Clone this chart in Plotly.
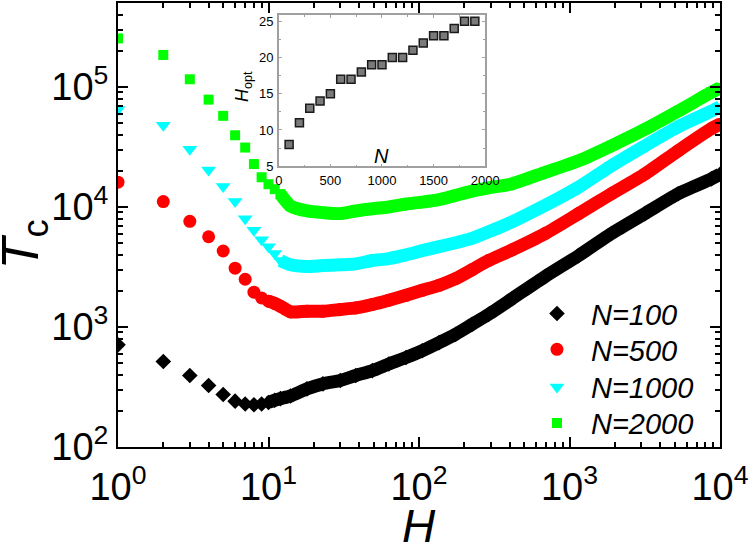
import plotly.graph_objects as go

# ---------------- data ----------------
H = [1, 2, 3, 4, 5, 6, 7, 8, 9, 10, 11, 12,
     14, 18, 23, 30, 38, 49, 63, 82, 105, 136, 175, 225, 290,
     415, 690, 1150, 1900, 3170, 5270, 8760, 10000]

Tc_N100 = [710, 516, 394, 325, 274, 241, 228, 225, 228, 235, 245, 253,
           266, 305, 336, 358, 394, 433, 492, 557, 634, 741, 871, 1052, 1274,
           1720, 2637, 3934, 6012, 8810, 12900, 17140, 18750]
Tc_N500 = [16100, 11100, 7600, 5650, 4300, 3090, 2500, 1950, 1745, 1640, 1571, 1492,
           1337, 1355, 1355, 1400, 1443, 1540, 1672, 1838, 2022, 2225, 2525, 2999, 3581,
           4385, 6012, 8810, 12890, 18840, 29420, 44980, 49000]
Tc_N1000 = [65000, 48000, 30300, 20300, 14800, 11100, 8000, 6400, 5330, 4670, 4090, 3580,
            3300, 3190, 3250, 3300, 3357, 3580, 3716, 3990, 4325, 4670, 5036, 5470, 6210,
            7510, 10320, 14630, 22110, 32370, 46660, 62920, 68400]
Tc_N2000 = [254000, 185000, 116000, 78500, 57500, 39600, 31300, 22800, 17700, 15490, 14090, 12800,
            10190, 9270, 8980, 8810, 9270, 9680, 10000, 10590, 10990, 11530, 12500, 13550, 14450,
            15600, 19460, 24310, 32370, 44370, 62920, 90360, 98200]

series_names = ["N=100", "N=500", "N=1000", "N=2000"]
series_values = [Tc_N100, Tc_N500, Tc_N1000, Tc_N2000]
series_colors = ["#000000", "#ff0000", "#00ffff", "#00ff00"]
series_symbols = ["diamond", "circle", "triangle-down", "square"]
series_sizes = [12, 13, 13, 10]
band_start_H = [10, 10, 12, 12]   # where the markers merge into a dense band

# inset
N_inset = [100, 200, 300, 400, 500, 600, 700, 800, 900, 1000,
           1100, 1200, 1300, 1400, 1500, 1600, 1700, 1800, 1900]
Hopt = [8, 11, 13, 14, 15, 17, 17, 18, 19, 19,
        20, 20, 21, 22, 23, 23, 24, 25, 25]

x_tickvals = [1, 10, 100, 1000, 10000]
x_ticktext = ["10<sup>0</sup>", "10<sup>1</sup>", "10<sup>2</sup>", "10<sup>3</sup>", "10<sup>4</sup>"]
y_tickvals = [100, 1000, 10000, 100000]
y_ticktext = ["10<sup>2</sup>", "10<sup>3</sup>", "10<sup>4</sup>", "10<sup>5</sup>"]

FONT = "Arial, Liberation Sans, sans-serif"

PL, PR, PT, PB = 118, 723, 1, 447
PW, PH = PR - PL, PB - PT


def px(x):
    return (x - PL) / PW


def py(y):
    return (PB - y) / PH


legend_ids = ["legend", "legend2", "legend3", "legend4"]
legend_rows = [313, 349, 387, 423]   # pixel rows of the legend entries

fig = go.Figure()

# dense bands (thick lines through the read values)
for name, vals, col, hs in zip(series_names, series_values, series_colors, band_start_H):
    hx = [h for h in H if h >= hs]
    hy = [v for h, v in zip(H, vals) if h >= hs]
    fig.add_trace(go.Scatter(x=hx, y=hy, mode="lines", line=dict(color=col, width=13, shape="spline", smoothing=0.6),
                             showlegend=False, hoverinfo="skip"))

for name, vals, col, sym, sz, lg in zip(series_names, series_values, series_colors, series_symbols,
                                        series_sizes, legend_ids):
    fig.add_trace(go.Scatter(x=H, y=vals, mode="markers", name=name, legend=lg,
                             marker=dict(symbol=sym, color=col, size=sz, line=dict(width=0))))

# inset
fig.add_trace(go.Scatter(x=N_inset, y=Hopt, mode="markers", xaxis="x2", yaxis="y2", showlegend=False,
                         marker=dict(symbol="square", size=8, color="#7a7a7a", line=dict(color="#1a1a1a", width=1.5))))

minor_log = []
for d in [1, 10, 100, 1000]:
    minor_log += [d * k for k in range(2, 10)]
minor_log_y = []
for d in [100, 1000, 10000, 100000]:
    minor_log_y += [d * k for k in range(2, 10)]

legend_layouts = {}
for lg, row in zip(legend_ids, legend_rows):
    legend_layouts[lg] = dict(x=px(525), y=py(row), xanchor="left", yanchor="middle",
                              bgcolor="rgba(0,0,0,0)", font=dict(size=29, style="italic"), itemwidth=58)

fig.update_layout(
    width=750, height=555,
    margin=dict(l=PL, r=750 - PR, t=PT, b=555 - PB),
    paper_bgcolor="white", plot_bgcolor="white",
    font=dict(family=FONT, color="black"),
    xaxis=dict(type="log", range=[0, 4], showgrid=False, zeroline=False,
               showline=True, linecolor="black", linewidth=2, mirror="allticks",
               ticks="inside", ticklen=10, tickwidth=1.5, tickcolor="black",
               tickvals=x_tickvals, ticktext=x_ticktext, tickfont=dict(size=38),
               ticklabeloverflow="allow", ticklabelstandoff=5,
               minor=dict(tickvals=minor_log, ticks="inside", ticklen=5, tickwidth=1.5, tickcolor="black")),
    yaxis=dict(type="log", range=[2, 5.7], showgrid=False, zeroline=False,
               showline=True, linecolor="black", linewidth=2, mirror="allticks",
               ticks="inside", ticklen=10, tickwidth=1.5, tickcolor="black",
               tickvals=y_tickvals, ticktext=y_ticktext, tickfont=dict(size=38),
               ticklabeloverflow="allow",
               minor=dict(tickvals=minor_log_y, ticks="inside", ticklen=5, tickwidth=1.5, tickcolor="black")),
    xaxis2=dict(domain=[px(279.6), px(487)], anchor="y2", range=[0, 2000], showgrid=False, zeroline=False,
                showline=True, linecolor="#a0a0a0", linewidth=1.5, mirror="allticks",
                ticks="inside", ticklen=3, tickcolor="#a0a0a0", tickvals=[0, 500, 1000, 1500, 2000],
                tickfont=dict(size=13), ticklabelstandoff=1,
                minor=dict(ticks="inside", ticklen=2, dtick=250, tickcolor="#a0a0a0")),
    yaxis2=dict(domain=[py(165), py(13)], anchor="x2", range=[5, 25.86], showgrid=False, zeroline=False,
                showline=True, linecolor="#a0a0a0", linewidth=1.5, mirror="allticks",
                ticks="inside", ticklen=3, tickcolor="#a0a0a0", tickvals=[5, 10, 15, 20, 25],
                tickfont=dict(size=13), ticklabelstandoff=1,
                minor=dict(ticks="inside", ticklen=2, dtick=2.5, tickcolor="#a0a0a0")),
    annotations=[
        dict(text="<i>H</i>", xref="paper", yref="paper", x=0.5, y=py(526), xanchor="center", yanchor="middle",
             showarrow=False, font=dict(size=46)),
        dict(text="<i>T</i><sub>c</sub>", xref="paper", yref="paper", x=px(23), y=py(243),
             xanchor="center", yanchor="middle", showarrow=False, textangle=-90, font=dict(size=52)),
        dict(text="<i>N</i>", xref="paper", yref="paper", x=px(383), y=py(155),
             xanchor="center", yanchor="middle", showarrow=False, font=dict(size=20)),
        dict(text="<i>H</i><sub>opt</sub>", xref="paper", yref="paper", x=px(244), y=py(85),
             xanchor="center", yanchor="middle", showarrow=False, textangle=-90, font=dict(size=18)),
    ],
)
fig.update_layout(**legend_layouts)

fig.write_html("out.html", config={"displayModeBar": False},
               post_script="document.body.style.margin='0px';document.body.style.overflow='hidden';")
